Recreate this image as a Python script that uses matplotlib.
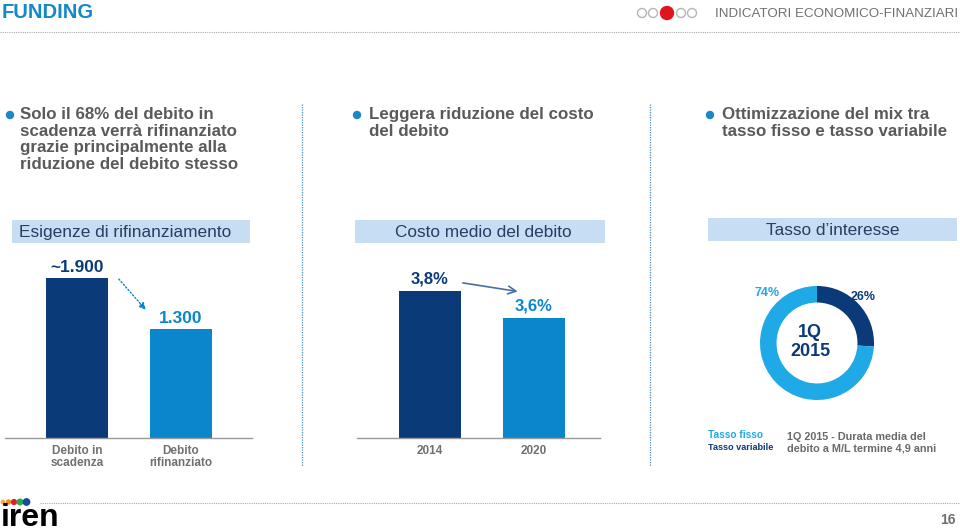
import numpy as np
import matplotlib
matplotlib.use("Agg")
import matplotlib.pyplot as plt
from matplotlib.patches import Rectangle, Circle

plt.rcParams['font.family'] = ['Liberation Sans', 'DejaVu Sans']

# data
refi_labels = ["Debito in\nscadenza", "Debito\nrifinanziato"]
refi_values = [1900, 1300]
refi_text = ["~1.900", "1.300"]

cost_labels = ["2014", "2020"]
cost_values = [3.8, 3.6]
cost_text = ["3,8%", "3,6%"]

rate_labels = ["Tasso variabile", "Tasso fisso"]
rate_values = [26, 74]

NAVY = "#0b3a78"
BLUE = "#0a86cc"
LIGHT = "#1fa9e6"
GRAY = "#5a5a5a"
BOXC = "#c6ddf3"
BOXT = "#243f60"

W, H = 960, 532
fig = plt.figure(figsize=(9.6, 5.32), dpi=100)
fig.patch.set_facecolor("white")

# overlay in pixel coords
ov = fig.add_axes([0, 0, 1, 1], facecolor="none")
ov.set_xlim(0, W)
ov.set_ylim(H, 0)
ov.axis("off")


def px_axes(x0, y0, x1, y1):
    # pixel box (top-left origin) -> figure axes
    return fig.add_axes([x0 / W, (H - y1) / H, (x1 - x0) / W, (y1 - y0) / H], facecolor="none")


# header
ov.text(2, 13, "FUNDING", color="#1588c8", fontsize=14.5, fontweight="bold", va="center")
ov.text(958, 14, "INDICATORI ECONOMICO-FINANZIARI", color="#707070", fontsize=9.6,
        va="center", ha="right")
for cx in [642, 653, 681, 692]:
    ov.add_patch(Circle((cx, 13), 4.5, fill=False, ec="#b5b5b5", lw=1))
ov.add_patch(Circle((667, 13), 6.5, color="#e0141e"))
ov.plot([0, 960], [32, 32], color="#aaaaaa", lw=0.8, ls=(0, (1, 1)))

# bullets
bullets = [
    (10, 20, "Solo il 68% del debito in\nscadenza verrà rifinanziato\ngrazie principalmente alla\nriduzione del debito stesso"),
    (357, 369, "Leggera riduzione del costo\ndel debito"),
    (710, 722, "Ottimizzazione del mix tra\ntasso fisso e tasso variabile"),
]
for bx, tx, txt in bullets:
    ov.add_patch(Circle((bx, 115), 3.5, color="#1a87c9"))
    ov.text(tx, 107, txt, color=GRAY, fontsize=12.2, fontweight="bold", va="top",
            linespacing=1.14)

# vertical separators
for vx in [302, 650]:
    ov.plot([vx, vx], [104, 466], color="#4a8cc0", lw=0.9, ls=(0, (1, 1)))

# header boxes
boxes = [(12, 220, 250, 243, 125, "Esigenze di rifinanziamento"),
         (355, 220, 605, 243, 483, "Costo medio del debito"),
         (708, 218, 957, 241, 833, "Tasso d\u2019interesse")]
for x0, y0, x1, y1, tc, t in boxes:
    ov.add_patch(Rectangle((x0, y0), x1 - x0, y1 - y0, color=BOXC, lw=0))
    ov.text(tc, (y0 + y1) / 2 + 1, t, color=BOXT, fontsize=12.4, ha="center", va="center")

# bar chart 1
ax1 = px_axes(5, 250, 252, 438)
x = np.arange(len(refi_values))
ax1.bar(x, refi_values, width=0.6, color=[NAVY, BLUE])
ax1.set_xlim(-0.692, 1.683)
ax1.set_ylim(0, 2232)
for i, (v, t) in enumerate(zip(refi_values, refi_text)):
    ax1.annotate(t, (i, v), xytext=(0, 2), textcoords="offset points", ha="center", va="bottom",
                 fontsize=12.5, fontweight="bold", color=[NAVY, BLUE][i])
ax1.annotate("", xy=(0.68, 1496), xytext=(0.385, 1912),
             arrowprops=dict(arrowstyle="-|>", color=BLUE, lw=1, ls=(0, (1, 1.5)),
                             mutation_scale=10))

# bar chart 2
ax2 = px_axes(357, 250, 600, 438)
ax2.bar(x, cost_values, width=0.6, color=[NAVY, BLUE])
ax2.set_xlim(-0.702, 1.635)
ax2.set_ylim(2.71, 4.10)
for i, (v, t) in enumerate(zip(cost_values, cost_text)):
    ax2.annotate(t, (i, v), xytext=(0, 3), textcoords="offset points", ha="center", va="bottom",
                 fontsize=12, fontweight="bold", color=[NAVY, BLUE][i])
ax2.annotate("", xy=(0.87, 3.79), xytext=(0.29, 3.86),
             arrowprops=dict(arrowstyle="->", color="#4a6fa0", lw=1.2, mutation_scale=14))

for ax, labels in [(ax1, refi_labels), (ax2, cost_labels)]:
    for s in ["top", "right", "left"]:
        ax.spines[s].set_visible(False)
    ax.spines["bottom"].set_color("#999999")
    ax.spines["bottom"].set_linewidth(1)
    ax.set_yticks([])
    ax.set_xticks(x)
    ax.set_xticklabels(labels, fontsize=8.5, fontweight="bold", color="#707070", linespacing=1.0)
    ax.tick_params(axis="x", length=0, pad=5)

# donut
ax3 = px_axes(817 - 65, 343 - 65, 817 + 65, 343 + 65)
ax3.pie(rate_values, colors=[NAVY, LIGHT], startangle=90, counterclock=False,
        wedgeprops=dict(width=0.29, linewidth=0))
ax3.set_xlim(-1.14, 1.14)
ax3.set_ylim(-1.14, 1.14)
ax3.set_aspect("equal")
ov.text(767, 293, f"{rate_values[1]}%", color=LIGHT, fontsize=9, fontweight="bold", ha="center", va="center")
ov.text(863, 297, f"{rate_values[0]}%", color=NAVY, fontsize=9, fontweight="bold", ha="center", va="center")
ov.text(810, 342, "1Q\n2015", color=NAVY, fontsize=13, fontweight="bold", ha="center", va="center",
        linespacing=1.15)

# legend / notes
ov.text(708, 435, rate_labels[1], color=LIGHT, fontsize=7.3, fontweight="bold", va="center")
ov.text(708, 447, rate_labels[0], color=NAVY, fontsize=6.6, fontweight="bold", va="center")
ov.text(787, 443, "1Q 2015 - Durata media del\ndebito a M/L termine 4,9 anni", color="#6a6a6a",
        fontsize=7.8, fontweight="bold", va="center", linespacing=1.15)

# footer
ov.plot([40, 960], [503, 503], color="#aaaaaa", lw=0.8, ls=(0, (1, 1)))
for cx, r, c in [(3, 1.7, "#f0b040"), (8.5, 2.0, "#f08a30"), (14, 2.4, "#e02020"),
                 (20, 2.8, "#2fa84f"), (26.5, 3.2, "#1a4a9a")]:
    ov.add_patch(Circle((cx, 502), r, color=c))
ov.text(1, 518, "iren", color="black", fontsize=23, fontweight="bold", va="center")
ov.text(956, 520, "16", color="#707070", fontsize=10, fontweight="bold", ha="right", va="center")

fig.savefig("out.png", dpi=100)
